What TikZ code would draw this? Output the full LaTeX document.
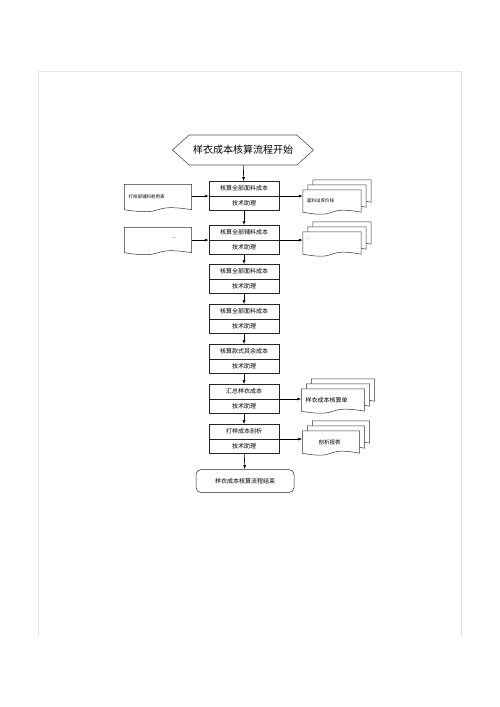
\documentclass[tikz,border=0pt]{standalone}
\usepackage{fontspec}
\newfontfamily\cjk{Noto Sans CJK SC}
\usetikzlibrary{shapes.multipart,shapes.symbols,arrows.meta,calc,backgrounds}
\definecolor{framegray}{HTML}{E4E4E4}
\definecolor{hexgray}{HTML}{555555}
\tikzset{
  docline/.style={draw=black!80,line width=0.5pt,fill=white},
  stepbox/.style={rectangle split,rectangle split parts=2,draw=black!85,line width=0.5pt,
    text width=62pt,align=center,inner xsep=4pt,inner ysep=4.3pt,
    font=\cjk\fontsize{6}{7}\selectfont},
  docbox/.style={rectangle,minimum width=#1,minimum height=22pt,inner xsep=4pt,
    text width=#1-8pt,align=left},
  arr/.style={-{Latex[length=4pt,width=3pt]},line width=0.6pt}
}
% outline of a document sheet, shifted right and up by #2
\newcommand\docsheet[2]{%
  \draw[docline] ([shift={(#2,-#2)}]#1.south west) -- ([shift={(#2,-#2)}]#1.north west)
    -- ([shift={(#2,-#2)}]#1.north east) -- ([shift={(#2,-#2)}]#1.south east)
    .. controls ($(#1.south west)!0.35!(#1.south east)+(#2,-#2-7)$)
    and ($(#1.south west)!0.65!(#1.south east)+(#2,-#2+7)$) .. ([shift={(#2,-#2)}]#1.south west) -- cycle;}
\newcommand\docstack[1]{\docsheet{#1}{10}\docsheet{#1}{5}\docsheet{#1}{0}}
\begin{document}
\begin{tikzpicture}[x=1pt,y=-1pt]
\useasboundingbox (0,0) rectangle (500,707);
\draw[framegray,line width=0.8pt] (38,637) -- (38,71) -- (461,71) -- (461,637);

\node[signal,signal to=west and east,signal pointer angle=84,draw=hexgray,line width=0.6pt,
  minimum width=141pt,minimum height=30pt,inner sep=1pt,font=\cjk\fontsize{10}{12}\selectfont]
  (start) at (243,150) {样衣成本核算流程开始};

\foreach \i/\y/\txt in {1/196/核算全部面料成本,2/240/核算全部辅料成本,3/279/核算全部面料成本,
  4/319/核算全部面料成本,5/359/核算款式其余成本,6/399/汇总样衣成本,7/439/打样成本剖析}
  \node[stepbox] (b\i) at (244,\y) {\txt\nodepart{two}技术助理};

\node[draw=black!85,line width=0.5pt,rounded corners=5pt,minimum width=98pt,minimum height=23pt,
  font=\cjk\fontsize{6}{7}\selectfont] (stop) at (245,481) {样衣成本核算流程结束};

\node[docbox=67pt,minimum height=25pt,font=\cjk\fontsize{4.5}{5}\selectfont] (l1) at (158,197) {打样部辅料耗用表};
\node[docbox=67pt,minimum height=25pt,font=\cjk\fontsize{4.5}{5}\selectfont] (l2) at (158,240) {\hspace*{44pt}\raisebox{3pt}{--}};
\node[docbox=58pt,font=\cjk\fontsize{4.5}{5}\selectfont] (r1) at (332,201) {面料出库价钱};
\node[docbox=58pt,font=\cjk\fontsize{4.5}{5}\selectfont] (r2) at (332,243) {\raisebox{6pt}{-}};
\node[docbox=63pt,font=\cjk\fontsize{6}{7}\selectfont] (r3) at (333,400) {样衣成本核算单};
\node[docbox=57pt,font=\cjk\fontsize{5.5}{6}\selectfont] (r4) at (331,442) {\hspace*{12pt}剖析报表};
\begin{scope}[on background layer]
  \docsheet{l1}{0}
  \docsheet{l2}{0}
  \foreach \r in {r1,r2,r3,r4} {\docstack{\r}}
\end{scope}

\draw[arr] (start) -- (b1);
\foreach \i [count=\j from 2] in {1,...,6}
  \draw[arr] (b\i) -- (b\j);
\draw[arr] (b7) -- (stop);
\draw[arr] (l1.east |- b1.text split) -- (b1.text split west);
\draw[arr] (l2.east |- b2.text split) -- (b2.text split west);
\draw[arr] (b1.text split east) -- (b1.text split east -| r1.west);
\draw[arr] (b2.text split east) -- (b2.text split east -| r2.west);
\draw[arr] (b6.text split east) -- (b6.text split east -| r3.west);
\draw[arr] (b7.text split east) -- (b7.text split east -| r4.west);
\end{tikzpicture}
\end{document}
